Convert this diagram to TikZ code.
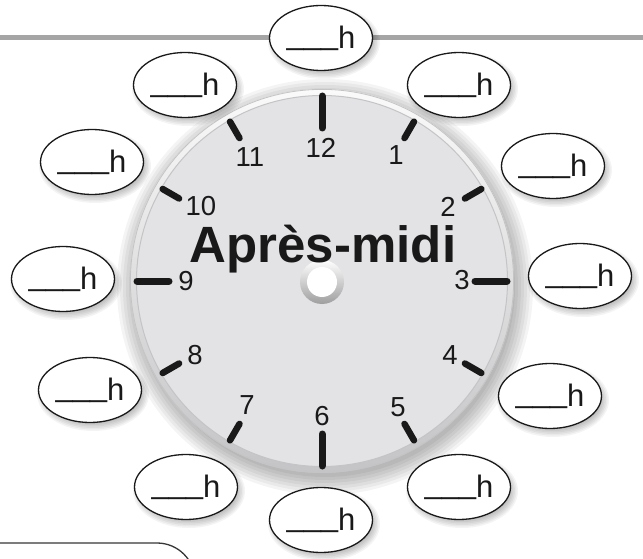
\documentclass[tikz,border=0pt]{standalone}
\usepackage{fontspec}
\setmainfont{Liberation Sans}
\usetikzlibrary{shapes.geometric,shadings}

\definecolor{facegray}{RGB}{227,227,229}
\definecolor{rimlight}{RGB}{250,250,250}
\definecolor{rimdark}{RGB}{196,196,198}
\definecolor{rimline}{RGB}{196,196,198}
\definecolor{topline}{RGB}{165,165,165}
\definecolor{boxline}{RGB}{55,55,55}
\definecolor{ink}{RGB}{25,25,25}

\tikzset{
  hourbubble/.style={ellipse, draw=ink, line width=1.3pt, fill=white,
    minimum width=103pt, minimum height=65pt, inner sep=0pt,
    font=\fontsize{31}{33}\selectfont, text=ink},
  longtick/.style={line width=7pt, line cap=round, draw=ink},
  shorttick/.style={line width=6.5pt, line cap=round, draw=ink},
  numlabel/.style={font=\fontsize{27.5}{30}\selectfont, inner sep=0pt, text=ink},
  softshade/.style={fill=black, opacity=0.045},
}

\newcommand\bubshadow[2]{%
  \foreach \k in {0,1.5,...,7.5}
    \fill[softshade] (#1+3,#2+4) ellipse [x radius=51.5+\k-3, y radius=32.5+\k-3];%
}
\newcommand\blank{\raisebox{0.13em}{\_\_\_}h}

\begin{document}
\begin{tikzpicture}[x=1pt,y=-1pt]
\useasboundingbox (0,0) rectangle (643,559);
\begin{scope}
  \clip (0,0) rectangle (643,559);
  \fill[white] (0,0) rectangle (643,559);
  % top rule
  \draw[topline, line width=5pt] (-5,38) -- (648,38);
  % bottom-left box
  \draw[boxline, line width=1.3pt, rounded corners=38pt] (-10,543) -- (195,543) -- (195,620);
  % face shadow
  \foreach \r in {190,193,...,208}
    \fill[softshade] (325,287) circle[radius=\r];
\end{scope}

% clock face
\shade[shading=axis, shading angle=45, top color=rimlight, bottom color=rimdark]
  (322,281) circle[radius=192];
\draw[rimline, line width=0.8pt] (322,281) circle[radius=191.6];
\fill[facegray] (322,281) circle[radius=185.5];
\draw[rimline, line width=1pt] (322,281) circle[radius=185.5];

% ticks
\foreach \h in {1,2,4,5,7,8,10,11} {
  \pgfmathsetmacro\ang{30*\h-90}
  \draw[shorttick, shift={(322,281)}] (\ang:165) -- (\ang:184);
}
\foreach \h in {3,6,9,12} {
  \pgfmathsetmacro\ang{30*\h-90}
  \draw[longtick, shift={(322,281)}] (\ang:153) -- (\ang:185);
}

% centre hole
\shade[shading=axis, shading angle=45, top color=white, bottom color=black!38]
  (322,282) circle[radius=22];
\fill[white] (322,282) circle[radius=15];

% numbers
\node[numlabel] (n12) at (321,148) {12};
\node[numlabel] (n1) at (396,155) {1};
\node[numlabel] (n2) at (448,207) {2};
\node[numlabel] (n3) at (462,280) {3};
\node[numlabel] (n4) at (450,355) {4};
\node[numlabel] (n5) at (398,407) {5};
\node[numlabel] (n6) at (322,416) {6};
\node[numlabel] (n7) at (247,405) {7};
\node[numlabel] (n8) at (195,355) {8};
\node[numlabel] (n9) at (186,281) {9};
\node[numlabel] (n10) at (201,206) {10};
\node[numlabel] (n11) at (250,157) {11};

% title
\node[font=\fontsize{51}{54}\selectfont\bfseries, text=ink, inner sep=0pt, anchor=base]
  (title) at (323,262) {Après-midi};

% bubble shadows
\bubshadow{321}{38}
\bubshadow{459}{85}
\bubshadow{553}{166}
\bubshadow{580}{276}
\bubshadow{550}{396}
\bubshadow{459}{487}
\bubshadow{321}{520}
\bubshadow{186}{487}
\bubshadow{90}{390}
\bubshadow{63}{279}
\bubshadow{92}{162}
\bubshadow{185}{85}

% bubbles
\node[hourbubble] (b12) at (321,38) {\blank};
\node[hourbubble] (b1) at (459,85) {\blank};
\node[hourbubble] (b2) at (553,166) {\blank};
\node[hourbubble] (b3) at (580,276) {\blank};
\node[hourbubble] (b4) at (550,396) {\blank};
\node[hourbubble] (b5) at (459,487) {\blank};
\node[hourbubble] (b6) at (321,520) {\blank};
\node[hourbubble] (b7) at (186,487) {\blank};
\node[hourbubble] (b8) at (90,390) {\blank};
\node[hourbubble] (b9) at (63,279) {\blank};
\node[hourbubble] (b10) at (92,162) {\blank};
\node[hourbubble] (b11) at (185,85) {\blank};
\end{tikzpicture}
\end{document}
